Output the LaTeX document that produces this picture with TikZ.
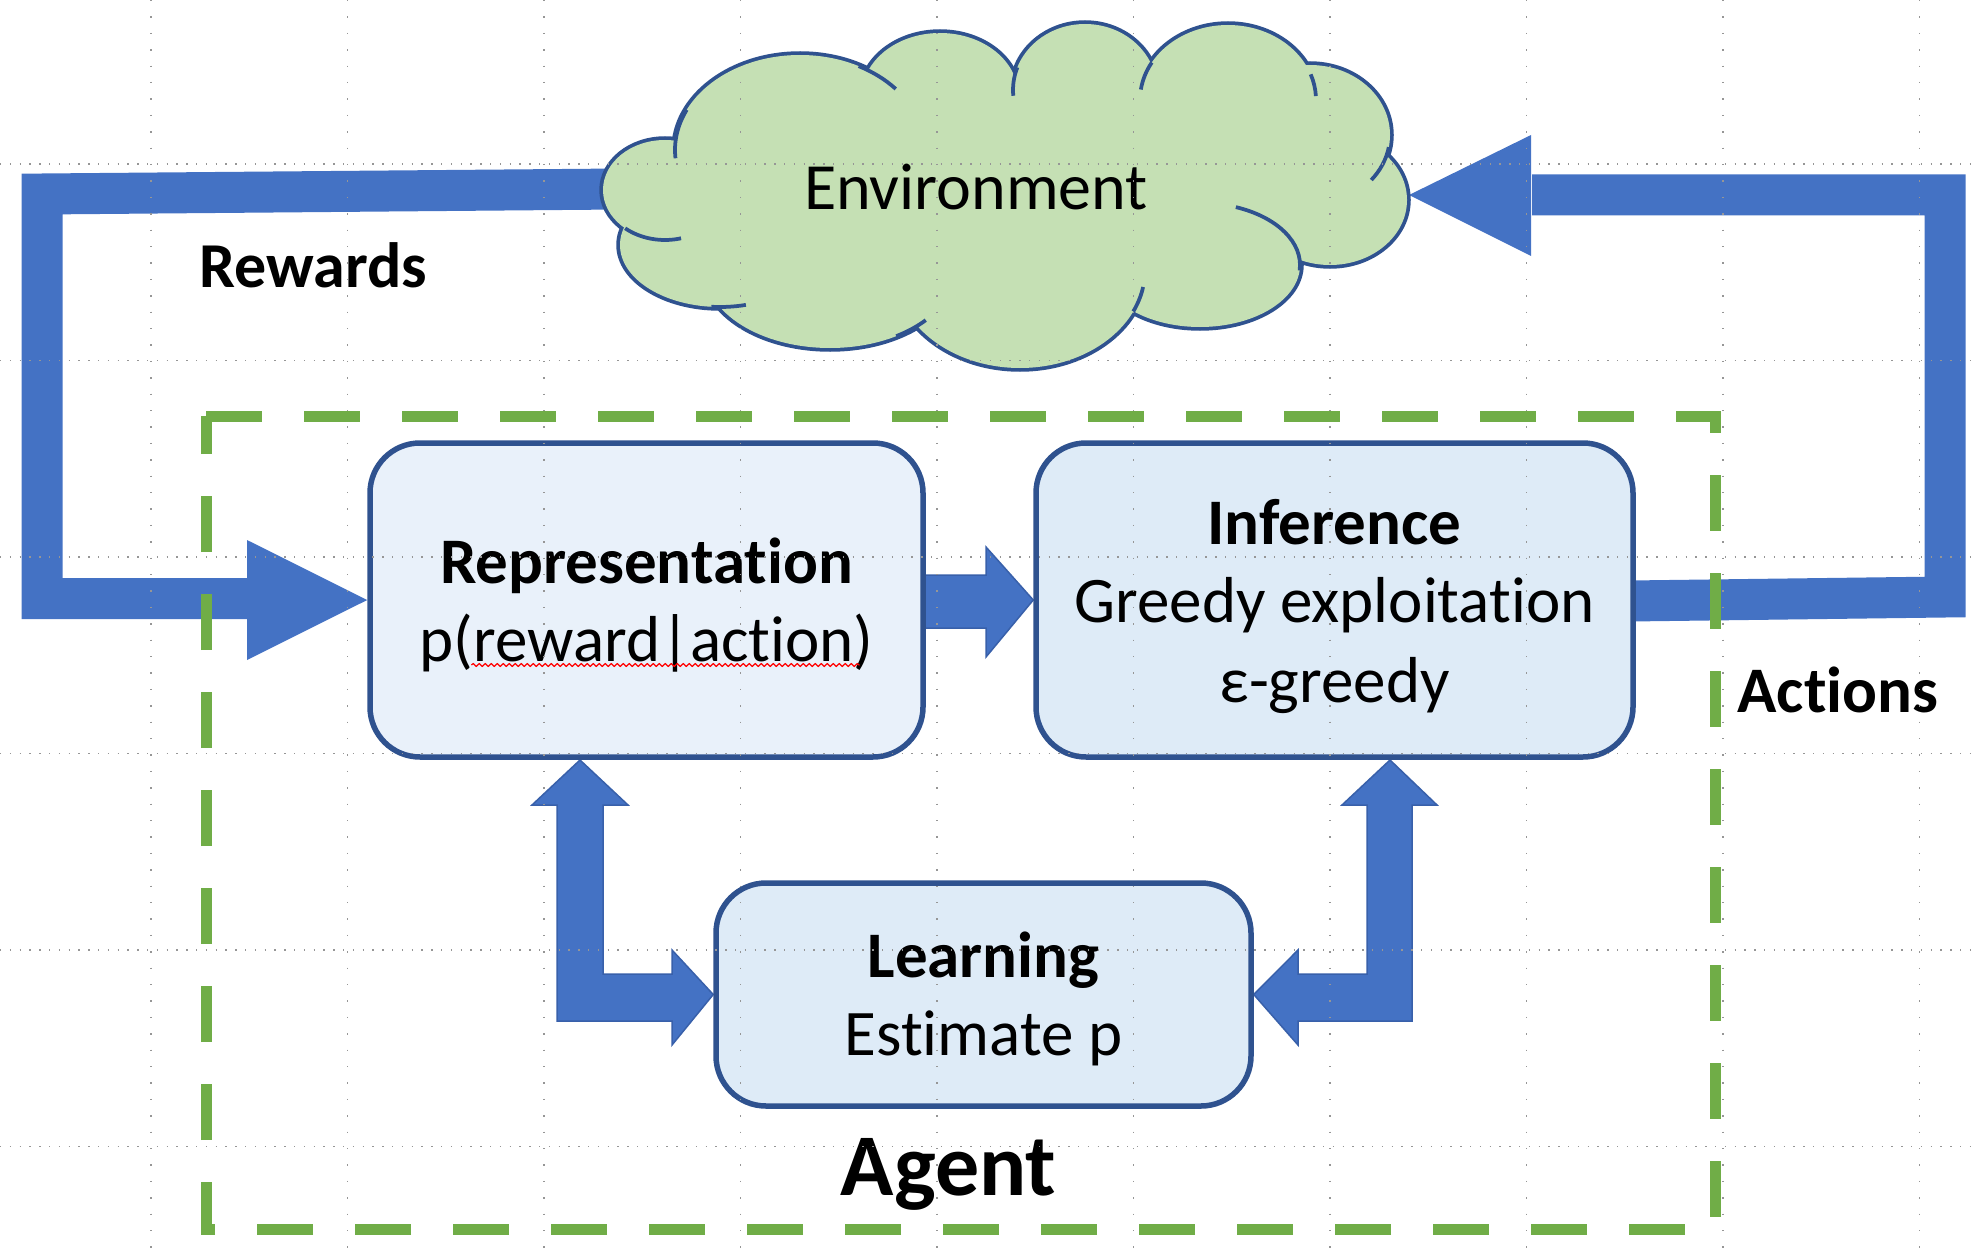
\documentclass[tikz,border=0pt]{standalone}
\usepackage{fontspec}
\setmainfont{Carlito}[Ligatures=NoCommon]
\usetikzlibrary{calc,decorations.pathmorphing}
\definecolor{arrowblue}{RGB}{68,114,196}
\definecolor{arrowline}{RGB}{56,96,170}
\definecolor{boxline}{RGB}{47,82,143}
\definecolor{repfill}{RGB}{233,241,250}
\definecolor{boxfill}{RGB}{222,235,247}
\definecolor{agentgreen}{RGB}{112,173,71}
\definecolor{cloudfill}{RGB}{197,224,180}
\definecolor{cloudline}{RGB}{47,82,143}
\definecolor{gridgray}{RGB}{150,150,150}
\pgfdeclarelayer{bg}
\pgfdeclarelayer{fg}
\pgfsetlayers{bg,main,fg}
\begin{document}
\begin{tikzpicture}[x=1pt,y=-1pt,
  box/.style={draw=boxline, line width=5.5pt, rounded corners=50pt, inner sep=0pt},
  bigarrow/.style={draw=arrowblue, line width=41pt, line join=miter, line cap=butt},
  blockarrow/.style={fill=arrowblue, draw=arrowline, line width=1.5pt, line join=miter},
  headfill/.style={fill=arrowblue},
  agentline/.style={draw=agentgreen, line width=11pt, dash pattern=on 56pt off 42pt},
  lbl/.style={anchor=base, inner sep=0pt, font=\fontsize{65}{80}\selectfont},
  lblb/.style={anchor=base, inner sep=0pt, font=\fontsize{65}{80}\selectfont\bfseries},
  cloudedge/.style={draw=cloudline, line width=7.5pt},
  cloudtail/.style={draw=cloudline, line width=3.75pt},
  gridv/.style={draw=gridgray, line width=1.2pt, dash pattern=on 1.4pt off 15pt},
  gridh/.style={draw=gridgray, line width=1.2pt, dash pattern=on 1.4pt off 8.4pt},
]
\useasboundingbox (0,0) rectangle (1975,1260);

% ---------- boxes ----------
\node[box, fill=repfill, minimum width=553pt, minimum height=314pt] (rep) at (646.5,600) {};
\node[box, fill=boxfill, minimum width=597pt, minimum height=314pt] (inf) at (1334.5,600) {};
\node[box, fill=boxfill, minimum width=535pt, minimum height=223pt] (learn) at (983.5,994.5) {};

\coordinate (envL) at (620,189);
\coordinate (envR) at (1409,195);

% ---------- arrows and agent frame (behind boxes) ----------
\begin{pgfonlayer}{bg}
  % Rewards
  \draw[bigarrow] (envL) -- (42,194) -- (42,598.5) -- (248,598.5);
  \fill[headfill] (247,540) -- (rep.west) -- (247,660) -- cycle;
  % Actions
  \draw[bigarrow] ($(inf.east)+(-6,1)$) -- (1945,597) -- (1945,195) -- (1532,195);
  \fill[headfill] (1531,135) -- (envR) -- (1531,256) -- cycle;
  % Representation -> Inference
  \draw[blockarrow] ($(rep.east)+(-4,-25)$) -- (986,575) -- (986,547) -- (inf.west)
        -- (986,657) -- (986,628) -- ($(rep.east)+(-4,28)$) -- cycle;
  % Representation <-> Learning
  \draw[blockarrow] (580,760) -- (628,805) -- (603,805) -- (603,974) -- (672,974)
        -- (672,950) -- (learn.west) -- (672,1045) -- (672,1021) -- (557,1021)
        -- (557,805) -- (532,805) -- cycle;
  % Inference <-> Learning
  \draw[blockarrow] (1390,760) -- (1437,805) -- (1412,805) -- (1412,1021) -- (1298,1021)
        -- (1298,1045) -- (learn.east) -- (1298,950) -- (1298,974) -- (1367,974)
        -- (1367,805) -- (1342,805) -- cycle;
  % Agent frame
  \draw[agentline] (206,416) -- (1715,416) -- (1715,1229) -- (206,1229) -- cycle;
\end{pgfonlayer}

% ---------- cloud ----------
\foreach \cx/\cy/\rx/\ry in {665/190/62/50, 800/150/125/95, 940/95/78/62, 1085/90/72/66,
   1228/100/88/75, 1310/135/80/70, 1330/200/77/65, 1200/265/100/62, 1020/270/125/98,
   830/270/125/78, 720/245/100/62}
  \draw[cloudedge] (\cx,\cy) ellipse [x radius=\rx, y radius=\ry];
\foreach \cx/\cy/\rx/\ry in {665/190/62/50, 800/150/125/95, 940/95/78/62, 1085/90/72/66,
   1228/100/88/75, 1310/135/80/70, 1330/200/77/65, 1200/265/100/62, 1020/270/125/98,
   830/270/125/78, 720/245/100/62, 1000/195/290/110}
  \fill[cloudfill] (\cx,\cy) ellipse [x radius=\rx, y radius=\ry];
\foreach \cx/\cy/\rx/\ry/\sa/\ea in {665/190/62/50/-230/-285, 800/150/125/95/-155/-185,
   800/150/125/95/-62/-40, 1085/90/72/66/-160/-185, 1228/100/88/75/-150/-172,
   1228/100/88/75/-20/-3, 1310/135/80/70/10/40, 1200/265/100/62/-69/5,
   1020/270/125/98/25/10, 830/270/125/78/58/40, 720/245/100/62/95/75}
  \draw[cloudtail] (\cx,\cy) ++(\sa:\rx pt and -\ry pt)
     arc[start angle=\sa, end angle=\ea, x radius=\rx pt, y radius=-\ry pt];

% ---------- texts ----------
\node[lbl, font=\fontsize{66}{80}\selectfont] (envtext) at (976,210) {Environment};
\node[lblb, font=\fontsize{64}{80}\selectfont\bfseries] (rewards) at (313.5,287) {Rewards};
\node[lblb] (actions) at (1838,712) {Actions};
\node[anchor=base, inner sep=0pt, font=\fontsize{88}{104}\selectfont\bfseries] (agent) at (948.5,1195) {Agent};

\node[lblb] (reptitle) at (646.5,583) {Representation};
\node[lbl] (repsub) at (646.5,661) {p(reward|action)};
\draw[red, line width=1.2pt, decorate, decoration={snake, amplitude=1.4pt, segment length=6pt}]
  ($(repsub.base west)+(52,4)$) -- ($(repsub.base east)+(-14,4)$);

\node[lblb] (inftitle) at (1334.5,544) {Inference};
\node[lbl] (infsub1) at (1334.5,622) {Greedy exploitation};
\node[lbl] (infsub2) at (1334.5,702) {ε-greedy};

\node[lblb] (learntitle) at (983.5,977) {Learning};
\node[lbl] (learnsub) at (983.5,1055) {Estimate p};

% ---------- grid dots (on top) ----------
\begin{pgfonlayer}{fg}
  \foreach \gx in {151,347.5,544,740.5,937,1133.5,1330,1526.5,1723,1919.5}
    \draw[gridv] (\gx,0) -- (\gx,1260);
  \foreach \gy in {164,360.5,557,753.5,950,1146.5}
    \draw[gridh] (0,\gy) -- (1975,\gy);
\end{pgfonlayer}
\end{tikzpicture}
\end{document}
